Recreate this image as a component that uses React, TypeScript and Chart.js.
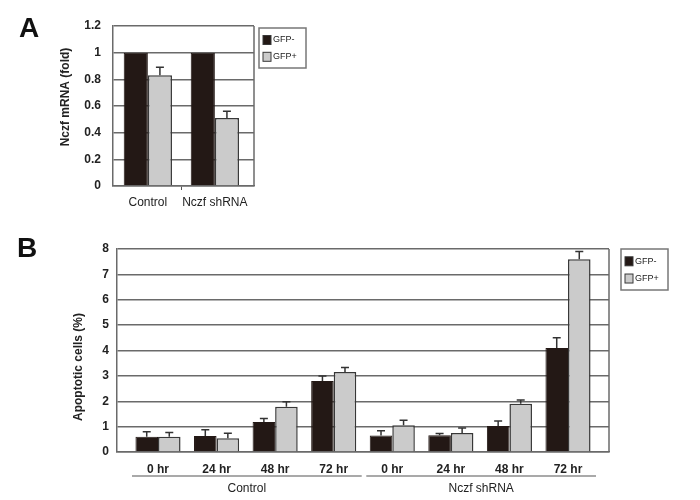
import React, { useEffect, useRef } from "react";
import { Chart, registerables } from "chart.js";
Chart.register(...registerables);

// ---------- Data ----------
const seriesNames = ["GFP-", "GFP+"];

const catsA = ["Control", "Nczf shRNA"];
const aGfpMinus = [1.0, 1.0];
const aErrMinus = [0, 0];
const aGfpPlus = [0.83, 0.51];
const aErrPlus = [0.06, 0.05];
const ticksA = [0, 0.2, 0.4, 0.6, 0.8, 1, 1.2];

const timesB = ["0 hr", "24 hr", "48 hr", "72 hr", "0 hr", "24 hr", "48 hr", "72 hr"];
const groupsB = ["Control", "Nczf shRNA"];
const bGfpMinus = [0.6, 0.63, 1.18, 2.8, 0.65, 0.66, 1.02, 4.1];
const bErrMinus = [0.2, 0.25, 0.14, 0.2, 0.19, 0.07, 0.2, 0.4];
const bGfpPlus = [0.6, 0.54, 1.78, 3.15, 1.05, 0.75, 1.9, 7.6];
const bErrPlus = [0.17, 0.2, 0.2, 0.18, 0.2, 0.2, 0.15, 0.3];
const ticksB = [0, 1, 2, 3, 4, 5, 6, 7, 8];

// ---------- Styles ----------
const DARK = "#231815";
const LIGHT = "#cbcbcb";
const EDGE = "#383838";
const GRID = "#6a6a6a";
const TEXT = "#222";
const FONT = "'Liberation Sans', Arial, sans-serif";

const errBars = {
  id: "errBars",
  afterDatasetsDraw(chart: any, _a: any, opts: any) {
    const ctx = chart.ctx;
    const y = chart.scales.y;
    chart.data.datasets.forEach((ds: any, i: number) => {
      const meta = chart.getDatasetMeta(i);
      meta.data.forEach((bar: any, j: number) => {
        const e = ds.errors ? ds.errors[j] : 0;
        if (!e) return;
        const top = y.getPixelForValue(ds.data[j] + e);
        ctx.save();
        ctx.strokeStyle = "#333";
        ctx.lineWidth = 1.5;
        ctx.beginPath();
        ctx.moveTo(bar.x, bar.y);
        ctx.lineTo(bar.x, top);
        ctx.moveTo(bar.x - opts.cap, top);
        ctx.lineTo(bar.x + opts.cap, top);
        ctx.stroke();
        ctx.restore();
      });
    });
  },
};

const frame = {
  id: "frame",
  afterDraw(chart: any) {
    const { ctx, chartArea: a } = chart;
    ctx.save();
    ctx.strokeStyle = GRID;
    ctx.lineWidth = 1.5;
    ctx.beginPath();
    ctx.moveTo(a.right, a.top);
    ctx.lineTo(a.right, a.bottom);
    ctx.stroke();
    ctx.restore();
  },
};

const yTitle = {
  id: "yTitle",
  afterDraw(chart: any, _a: any, opts: any) {
    const { ctx } = chart;
    ctx.save();
    ctx.translate(opts.x, opts.y);
    ctx.rotate(-Math.PI / 2);
    ctx.font = `bold 12px ${FONT}`;
    ctx.fillStyle = TEXT;
    ctx.textAlign = "center";
    ctx.textBaseline = "middle";
    ctx.fillText(opts.text, 0, 0);
    ctx.restore();
  },
};

const boxLegend = {
  id: "boxLegend",
  afterDraw(chart: any, _a: any, opts: any) {
    const { ctx, chartArea: a } = chart;
    const x = a.right + opts.dx;
    const y = a.top + opts.dy;
    ctx.save();
    ctx.strokeStyle = "#777";
    ctx.lineWidth = 1.5;
    ctx.strokeRect(x, y, opts.w, opts.h);
    ctx.font = `9px ${FONT}`;
    ctx.textBaseline = "middle";
    chart.data.datasets.forEach((ds: any, i: number) => {
      const iy = y + opts.h * (0.3 + 0.42 * i);
      ctx.fillStyle = ds.backgroundColor;
      ctx.fillRect(x + 4, iy - 4.5, 8, 9);
      ctx.strokeStyle = EDGE;
      ctx.lineWidth = 1;
      ctx.strokeRect(x + 4, iy - 4.5, 8, 9);
      ctx.fillStyle = TEXT;
      ctx.fillText(ds.label, x + 14, iy);
    });
    ctx.restore();
  },
};

const groupLabels = {
  id: "groupLabels",
  afterDraw(chart: any, _a: any, opts: any) {
    if (!opts || !opts.groups) return;
    const { ctx } = chart;
    const xs = chart.scales.x;
    const n = opts.size;
    ctx.save();
    opts.groups.forEach((g: string, gi: number) => {
      const x0 = xs.getPixelForValue(gi * n) - 26;
      const x1 = xs.getPixelForValue(gi * n + n - 1) + 28;
      ctx.strokeStyle = "#555";
      ctx.lineWidth = 1.2;
      ctx.beginPath();
      ctx.moveTo(x0, opts.lineY);
      ctx.lineTo(x1, opts.lineY);
      ctx.stroke();
      ctx.fillStyle = TEXT;
      ctx.font = `12px ${FONT}`;
      ctx.textAlign = "center";
      ctx.textBaseline = "middle";
      ctx.fillText(g, (x0 + x1) / 2, opts.textY);
    });
    ctx.restore();
  },
};

function makeConfig(p: any): any {
  return {
    type: "bar",
    data: {
      labels: p.labels,
      datasets: [
        {
          label: seriesNames[0],
          data: p.minus,
          errors: p.errMinus,
          backgroundColor: DARK,
          borderColor: DARK,
          borderWidth: 1,
          categoryPercentage: p.catPct,
          barPercentage: 1,
        },
        {
          label: seriesNames[1],
          data: p.plus,
          errors: p.errPlus,
          backgroundColor: LIGHT,
          borderColor: EDGE,
          borderWidth: 1.5,
          categoryPercentage: p.catPct,
          barPercentage: 1,
        },
      ],
    },
    plugins: [errBars, frame, boxLegend, groupLabels, yTitle],
    options: {
      responsive: false,
      animation: false,
      layout: { padding: { left: p.padLeft, top: p.top, right: p.padRight, bottom: 0 } },
      plugins: {
        legend: { display: false },
        tooltip: { enabled: false },
        errBars: { cap: 4 },
        boxLegend: p.legend,
        groupLabels: p.groups,
        yTitle: p.title,
      },
      scales: {
        x: {
          grid: {
            display: true,
            drawOnChartArea: false,
            drawTicks: true,
            tickLength: 4,
            color: (c: any) => (p.midTick && c.index === 1 ? "#555" : "rgba(0,0,0,0)"),
          },
          border: { display: true, color: GRID, width: 1.5 },
          ticks: {
            color: TEXT,
            font: { family: FONT, size: 12, weight: p.xBold ? "bold" : "normal" },
            padding: p.xPad,
            maxRotation: 0,
            autoSkip: false,
          },
          afterBuildTicks: (s: any) => {
            s._startValue = p.startVal;
            s._valueRange = p.range;
          },
          afterFit: (s: any) => {
            s.height = p.xHeight;
          },
        },
        y: {
          min: 0,
          max: p.yMax,
          afterBuildTicks: (s: any) => {
            s.ticks = p.yTicks.map((v: number) => ({ value: v }));
          },
          grid: { color: GRID, lineWidth: 1.5, drawTicks: false },
          border: { display: true, color: GRID, width: 1.5 },
          ticks: {
            color: TEXT,
            font: { family: FONT, size: 12, weight: "bold" },
            padding: p.yPad,
            callback: (v: any) => String(v),
          },
          afterFit: (s: any) => {
            s.width = p.yWidth;
          },
        },
      },
    },
  };
}

export default function App() {
  const refA = useRef<HTMLCanvasElement>(null);
  const refB = useRef<HTMLCanvasElement>(null);

  useEffect(() => {
    const chartA = new Chart(
      refA.current as HTMLCanvasElement,
      makeConfig({
        labels: catsA,
        minus: aGfpMinus,
        errMinus: aErrMinus,
        plus: aGfpPlus,
        errPlus: aErrPlus,
        catPct: 0.72,
        padLeft: 54,
        padRight: 96,
        top: 26,
        yWidth: 113 - 54,
        xHeight: 24,
        yMax: 1.2,
        yTicks: ticksA,
        yPad: 12,
        xPad: 5,
        xBold: false,
        startVal: -0.52,
        range: 2.104,
        title: { text: "Nczf mRNA (fold)", x: 66, y: 97 },
        midTick: true,
        legend: { dx: 5, dy: 2, w: 47, h: 40 },
        groups: null,
      })
    );
    const chartB = new Chart(
      refB.current as HTMLCanvasElement,
      makeConfig({
        labels: timesB,
        minus: bGfpMinus,
        errMinus: bErrMinus,
        plus: bGfpPlus,
        errPlus: bErrPlus,
        catPct: 0.77,
        padLeft: 67,
        padRight: 700 - 609,
        top: 39,
        yWidth: 117 - 67,
        xHeight: 48,
        yMax: 8,
        yTicks: ticksB,
        yPad: 8,
        xPad: 6,
        xBold: true,
        startVal: -0.7,
        range: 8.4,
        title: { text: "Apoptotic cells (%)", x: 79, y: 157 },
        midTick: false,
        legend: { dx: 12, dy: 0, w: 47, h: 41 },
        groups: { groups: groupsB, size: 4, lineY: 266, textY: 279 },
      })
    );
    return () => {
      chartA.destroy();
      chartB.destroy();
    };
  }, []);

  const letter: React.CSSProperties = {
    position: "absolute",
    fontFamily: FONT,
    fontWeight: "bold",
    fontSize: 28,
    lineHeight: "28px",
    color: "#111",
  };

  return (
    <div style={{ position: "absolute", left: 0, top: 0, width: 700, height: 500, background: "#fff" }}>
      <canvas ref={refA} width={350} height={210} style={{ position: "absolute", left: 0, top: 0 }} />
      <canvas ref={refB} width={700} height={290} style={{ position: "absolute", left: 0, top: 210 }} />
      <div style={{ ...letter, left: 19, top: 14 }}>A</div>
      <div style={{ ...letter, left: 17, top: 234 }}>B</div>
    </div>
  );
}
